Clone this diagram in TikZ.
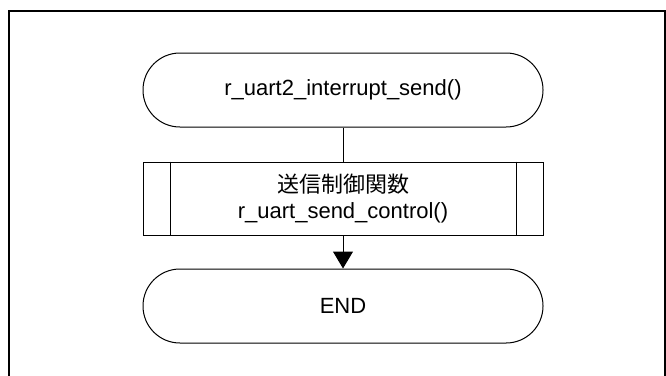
\documentclass[tikz,border=0pt]{standalone}
\usepackage{fontspec}
\setmainfont{Liberation Sans}
\newfontfamily\jpfont{Noto Sans CJK JP}
\usetikzlibrary{arrows.meta,calc}
\begin{document}
\begin{tikzpicture}[x=0.75pt,y=-0.75pt,
  term/.style={draw,line width=0.75pt,rounded corners=27.7pt,minimum width=300pt,minimum height=55.5pt,inner sep=0pt,font=\fontsize{16.5}{19.5}\selectfont},
  procbox/.style={draw,line width=0.75pt,minimum width=300pt,minimum height=54.75pt,inner sep=0pt,align=center,font=\fontsize{16.5}{19.5}\selectfont},
  conn/.style={line width=0.75pt},
  frameline/.style={line width=1.5pt}]
\useasboundingbox (0,0) rectangle (666,375);
\draw[frameline] (9,400) -- (9,11) -- (665,11) -- (665,400);
\node[term] (start) at (343,90) {r\_uart2\_interrupt\_send()};
\node[procbox] (proc) at (343,198.5) {{\jpfont 送信制御関数}\\r\_uart\_send\_control()};
\node[term] (end) at (343,306) {END};
\draw[conn] ($(proc.north west)+(28,0)$) -- ($(proc.south west)+(28,0)$);
\draw[conn] ($(proc.north east)+(-27,0)$) -- ($(proc.south east)+(-27,0)$);
\draw[conn] (start) -- (proc);
\draw[conn,-{Triangle[width=15pt,length=12.75pt]}] (proc) -- (end);
\end{tikzpicture}
\end{document}
